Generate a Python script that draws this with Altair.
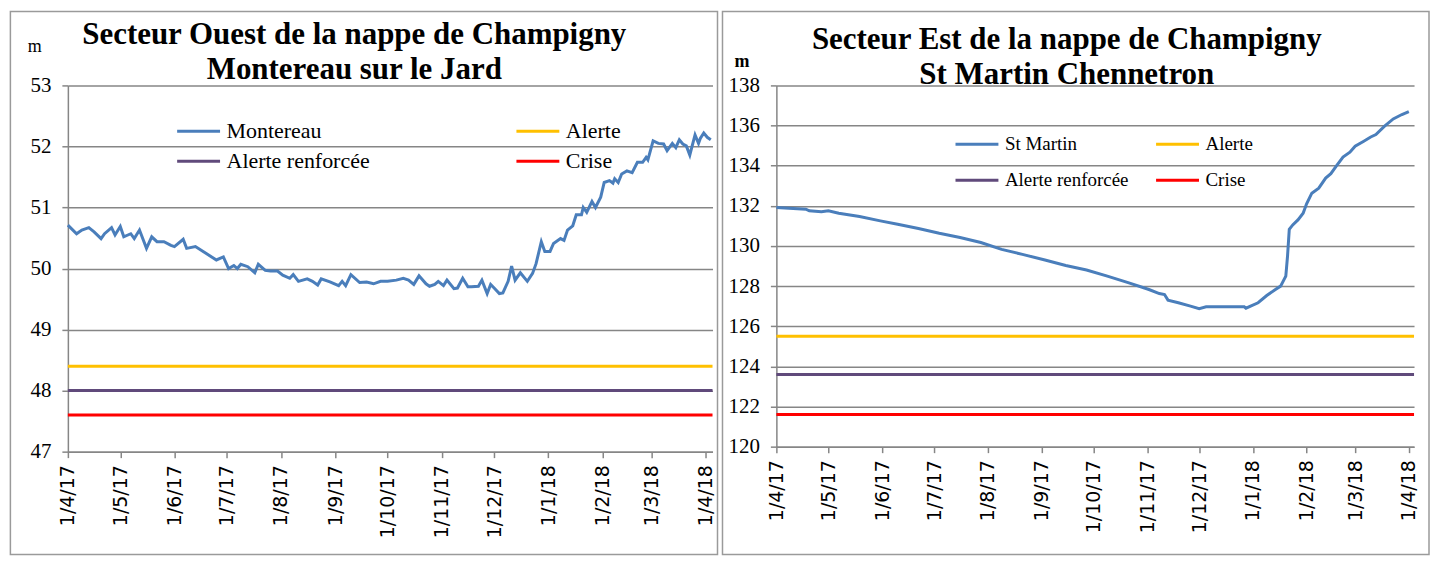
import altair as alt
import pandas as pd

# ---------------- data ----------------
START = "2017-04-01"

# Secteur Ouest - Montereau (days since 1 Apr 2017, level in m)
ouest_days = [0, 5, 8, 12, 15, 19, 21, 25, 27, 30, 32, 36, 38, 41, 45, 48, 51, 55, 59, 61,
              66, 68, 73, 79, 85, 89, 92, 95, 97, 99, 103, 107, 109, 113, 116, 120, 123, 127, 129, 132,
              137, 140, 143, 145, 150, 155, 157, 159, 162, 167, 171, 175, 179, 183, 188, 192, 195, 198, 201, 205,
              207, 210, 212, 215, 217, 221, 223, 226, 229, 231, 235, 237, 240, 242, 244, 247, 249, 252, 254, 256,
              259, 263, 266, 268, 271, 273, 276, 278, 282, 284, 286, 289, 291, 294, 295, 297, 300, 302, 305, 307,
              310, 312, 313, 315, 317, 320, 323, 326, 329, 331, 332, 335, 338, 341, 343, 346, 348, 350, 352, 354,
              356, 359, 361, 362, 364, 366, 368]
ouest_vals = [50.71, 50.57, 50.63, 50.67, 50.60, 50.49, 50.57, 50.67, 50.55, 50.69, 50.52, 50.57, 50.49, 50.63, 50.33, 50.52, 50.44, 50.44, 50.38, 50.36,
              50.48, 50.33, 50.36, 50.25, 50.14, 50.19, 50.00, 50.05, 50.00, 50.07, 50.03, 49.93, 50.07, 49.97, 49.96, 49.96, 49.89, 49.84, 49.90, 49.79,
              49.83, 49.79, 49.73, 49.83, 49.78, 49.72, 49.79, 49.72, 49.90, 49.77, 49.78, 49.75, 49.79, 49.79, 49.81, 49.84, 49.81, 49.74, 49.88, 49.75,
              49.71, 49.74, 49.79, 49.72, 49.81, 49.67, 49.68, 49.84, 49.70, 49.70, 49.71, 49.81, 49.59, 49.74, 49.68, 49.59, 49.60, 49.79, 50.04, 49.81,
              49.93, 49.79, 49.92, 50.08, 50.44, 50.28, 50.28, 50.41, 50.49, 50.46, 50.63, 50.70, 50.88, 50.88, 51.00, 50.92, 51.10, 51.00, 51.17, 51.41,
              51.44, 51.40, 51.47, 51.41, 51.55, 51.60, 51.57, 51.74, 51.74, 51.82, 51.78, 52.09, 52.05, 52.04, 51.93, 52.05, 51.98, 52.11, 52.04, 52.01,
              51.86, 52.19, 52.05, 52.13, 52.22, 52.15, 52.11]

# Secteur Est - St Martin Chennetron
est_days = [0, 17, 19, 26, 30, 36, 48, 60, 70, 82, 94, 106, 118, 130, 142, 155, 167, 179, 191, 203,
            215, 221, 224, 226, 232, 239, 244, 248, 259, 270, 271, 278, 283, 288, 291, 294, 295, 296, 298, 301,
            304, 306, 309, 313, 317, 320, 323, 327, 331, 334, 339, 343, 346, 351, 356, 361, 365]
est_vals = [131.92, 131.83, 131.75, 131.70, 131.75, 131.63, 131.47, 131.25, 131.08, 130.87, 130.63, 130.42, 130.17, 129.83, 129.58, 129.30, 129.03, 128.80, 128.50, 128.17,
            127.83, 127.63, 127.58, 127.30, 127.17, 127.00, 126.88, 126.97, 126.97, 126.97, 126.90, 127.17, 127.53, 127.83, 128.00, 128.50, 129.50, 130.83, 131.05, 131.30,
            131.63, 132.10, 132.63, 132.88, 133.38, 133.60, 133.97, 134.43, 134.67, 134.97, 135.22, 135.43, 135.55, 135.97, 136.33, 136.55, 136.70]

threshold_names = ["Alerte", "Alerte renforcée", "Crise"]
ouest_thresholds = [48.4, 48.0, 47.6]
est_thresholds = [125.5, 123.6, 121.6]

ouest_y_ticks = [47, 48, 49, 50, 51, 52, 53]
est_y_ticks = [120, 122, 124, 126, 128, 130, 132, 134, 136, 138]
month_ticks = [(2017, m) for m in range(4, 13)] + [(2018, m) for m in range(1, 5)]

# colours: measured series, Alerte, Alerte renforcée, Crise
series_color = "#4A7EBB"
threshold_colors = ["#FFC000", "#604A7B", "#FF0000"]

ouest_title = "Secteur Ouest de la nappe de Champigny\nMontereau sur le Jard"
est_title = "Secteur Est de la nappe de Champigny\nSt Martin Chennetron"

GRID = "#868686"
FRAME = "#9a9a9a"


def to_dates(days):
    base = pd.Timestamp(START)
    return [(base + pd.Timedelta(days=int(d))).strftime("%Y-%m-%d") for d in days]


def build_df(name, days, vals, thresholds, end_date):
    rows = [{"date": d, "value": v, "serie": name} for d, v in zip(to_dates(days), vals)]
    for tname, t in zip(threshold_names, thresholds):
        rows.append({"date": START, "value": t, "serie": tname})
        rows.append({"date": end_date, "value": t, "serie": tname})
    return pd.DataFrame(rows)


def panel(name, days, vals, thresholds, end_date, end_dt, y_dom, y_ticks, W, H,
          title_text, title_x, title_y, m_x, m_y, m_weight,
          leg_x, leg_y, leg_colpad, leg_clip, leg_rowpad, leg_font,
          fr_left, fr_right, fr_top, fr_bottom):
    df = build_df(name, days, vals, thresholds, end_date)
    # legend fills column by column: order so rows read  serie | Alerte / Alerte renforcée | Crise
    dom = [name, threshold_names[1], threshold_names[0], threshold_names[2]]
    rng = [series_color, threshold_colors[1], threshold_colors[0], threshold_colors[2]]
    x_axis = alt.Axis(
        values=[alt.DateTime(year=y, month=m, date=1, utc=True) for y, m in month_ticks],
        format="%-d/%-m/%y", labelAngle=270, labelFont="DejaVu Sans", labelFontSize=19,
        labelColor="black", labelPadding=7, labelFlush=False, labelOverlap=False,
        tickSize=6, tickColor=GRID, tickWidth=1.5, domainColor=GRID, domainWidth=1.5,
        grid=False, title="")
    y_axis = alt.Axis(
        values=y_ticks, grid=True, gridColor=GRID, gridWidth=1.5,
        domainColor=GRID, domainWidth=1.5, tickColor=GRID, tickSize=6, tickWidth=1.5,
        labelFont="Liberation Serif", labelFontSize=21, labelColor="black", labelPadding=11,
        labelFlush=False, labelOverlap=False,
        title="m", titleAngle=0, titleX=m_x, titleY=m_y, titleFont="Liberation Serif",
        titleFontSize=18, titleFontWeight=m_weight, titleAlign="center",
        titleBaseline="alphabetic", titleColor="black")
    lines = alt.Chart(df).mark_line(strokeWidth=3).encode(
        x=alt.X("date:T", axis=x_axis,
                scale=alt.Scale(type="utc", nice=False,
                                domain=[alt.DateTime(year=2017, month=4, date=1, utc=True), end_dt])),
        y=alt.Y("value:Q", axis=y_axis, scale=alt.Scale(domain=y_dom, nice=False, zero=False)),
        color=alt.Color("serie:N", title=None,
                        scale=alt.Scale(domain=dom, range=rng),
                        legend=alt.Legend(orient="none", legendX=leg_x, legendY=leg_y, columns=2,
                                          columnPadding=leg_colpad, rowPadding=leg_rowpad,
                                          clipHeight=leg_clip, symbolType="stroke", symbolSize=1849,
                                          symbolStrokeWidth=3, labelFont="Liberation Serif",
                                          labelFontSize=leg_font, labelColor="black", labelOffset=5,
                                          padding=0)),
    )
    one = alt.Data(values=[{"k": 0}])
    frame = alt.Chart(one).mark_rect(fillOpacity=0, stroke=FRAME, strokeWidth=1.5).encode(
        x=alt.value(fr_left), x2=alt.value(W + fr_right),
        y=alt.value(fr_top), y2=alt.value(H + fr_bottom))
    title = alt.Chart(one).mark_text(font="Liberation Serif", fontSize=31, fontWeight="bold",
                                     align="center", baseline="alphabetic", lineBreak="\n",
                                     lineHeight=35.5, color="black").encode(
        x=alt.value(title_x), y=alt.value(title_y), text=alt.value(title_text))
    return alt.layer(frame, lines, title).properties(width=W, height=H)


left = panel("Montereau", ouest_days, ouest_vals, ouest_thresholds, "2018-04-05",
             alt.DateTime(year=2018, month=4, date=5, utc=True), [47, 53], ouest_y_ticks, 646, 367,
             ouest_title, 287, -41.5, -33.6, -34, "normal",
             108, 33, 145, 26, 4, 22,
             -57.6, 5, -74, 103)

right = panel("St Martin", est_days, est_vals, est_thresholds, "2018-04-04",
              alt.DateTime(year=2018, month=4, date=4, utc=True), [120, 138], est_y_ticks, 639, 362,
              est_title, 291, -36.5, -35, -19, "bold",
              178, 44, 26, 30, 6, 19,
              -54, 15, -74, 108)

chart = alt.hconcat(left, right, spacing=3).resolve_scale(color="independent").properties(
    padding={"left": 1, "top": 2, "right": 0, "bottom": 0}
).configure_view(strokeWidth=0)

chart.save("out.html", embed_options={"renderer": "svg", "actions": False})
